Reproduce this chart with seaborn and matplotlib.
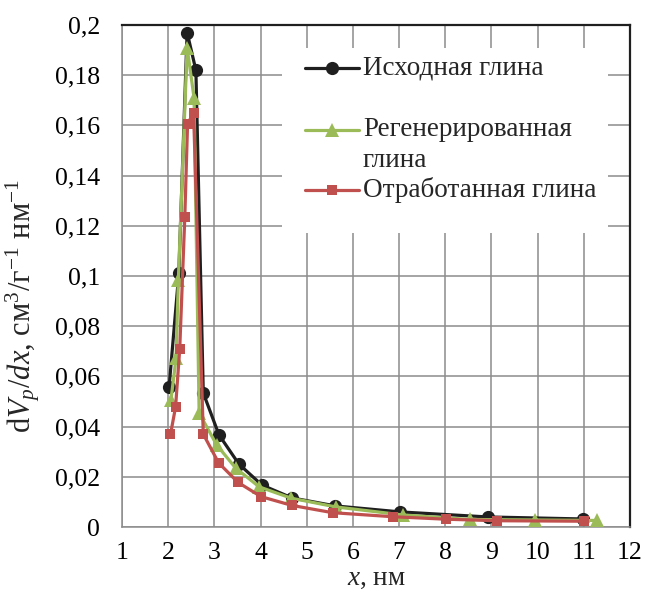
import matplotlib
matplotlib.use("Agg")
import matplotlib.pyplot as plt
import matplotlib.ticker as mticker
from matplotlib.patches import Rectangle
import numpy as np
import pandas as pd
import seaborn as sns

# Data
x_initial = [2.02, 2.23, 2.41, 2.60, 2.76, 3.10, 3.53, 4.03, 4.68, 5.62, 7.03, 8.92, 10.98]
y_initial = [0.0558, 0.101, 0.197, 0.182, 0.0534, 0.0367, 0.0251, 0.0167, 0.0116, 0.0084,
             0.0060, 0.0040, 0.0032]

x_regen = [2.06, 2.17, 2.22, 2.41, 2.56, 2.67, 3.05, 3.46, 3.97, 4.66, 5.63, 7.08, 8.53, 9.94, 11.28]
y_regen = [0.0506, 0.0673, 0.0984, 0.191, 0.171, 0.0454, 0.0327, 0.0235, 0.0160, 0.0115,
           0.0080, 0.0048, 0.0030, 0.0028, 0.0026]

x_spent = [2.05, 2.16, 2.25, 2.36, 2.42, 2.55, 2.76, 3.09, 3.51, 4.01, 4.68, 5.56, 6.86, 8.02, 9.13, 11.01]
y_spent = [0.0369, 0.0478, 0.0709, 0.1235, 0.1606, 0.165, 0.0370, 0.0256, 0.0178, 0.0121,
           0.0086, 0.0057, 0.0041, 0.0031, 0.0025, 0.0023]

labels = ["Исходная глина", "Регенерированная глина", "Отработанная глина"]
colors = ["#1f1f1f", "#9bbb59", "#c0504d"]
markers = ["o", "^", "s"]
msizes = [9.5, 9.5, 7.5]

x_ticks = list(range(1, 13))
y_ticks = [0, 0.02, 0.04, 0.06, 0.08, 0.1, 0.12, 0.14, 0.16, 0.18, 0.2]

sns.set_style("white")
plt.rcParams["font.family"] = ["Liberation Serif", "DejaVu Serif"]
plt.rcParams["mathtext.fontset"] = "custom"
plt.rcParams["mathtext.rm"] = "Liberation Serif"
plt.rcParams["mathtext.it"] = "Liberation Serif:italic"

grid_c = "#8c8c8c"
fs_tick = 18.5
fs = 19.5

fig = plt.figure(figsize=(6.45, 5.99), dpi=100)
ax = fig.add_axes([122 / 645, 1 - 527 / 599, 508 / 645, 502 / 599])

series = [(x_initial, y_initial), (x_regen, y_regen), (x_spent, y_spent)]
for (xs, ys), lab, c, m, ms in zip(series, labels, colors, markers, msizes):
    df = pd.DataFrame({"x": xs, "y": ys})
    sns.lineplot(data=df, x="x", y="y", sort=False, ax=ax, color=c, marker=m,
                 markersize=ms, markeredgewidth=0, linewidth=2.3, zorder=3)

ax.set_xlim(1, 12)
ax.set_ylim(0, 0.2)
ax.set_xticks(x_ticks)
ax.set_yticks(y_ticks)
ax.yaxis.set_major_formatter(mticker.FuncFormatter(
    lambda v, p: ("%.2f" % v).rstrip("0").rstrip(".").replace(".", ",")))
ax.grid(True, color=grid_c, linewidth=1.1)
ax.set_axisbelow(True)
ax.tick_params(axis="both", direction="out", length=6, width=1.1, color=grid_c,
               labelsize=fs_tick, labelcolor="black")
ax.tick_params(axis="x", pad=5)
ax.tick_params(axis="y", pad=10)
for s in ["left", "bottom"]:
    ax.spines[s].set_color(grid_c)
    ax.spines[s].set_linewidth(1.1)
for s in ["top", "right"]:
    ax.spines[s].set_color("#1f1f1f")
    ax.spines[s].set_linewidth(1.6)

ax.set_xlabel(r"$x$, нм", fontsize=fs, va="center")
ax.set_ylabel(r"d$V_p$/$dx$, см$^3$/г$^{-1}$ нм$^{-1}$", fontsize=22, va="center")
ax.xaxis.set_label_coords(0.5, -0.102)
ax.yaxis.set_label_coords(-0.195, 0.44)

# legend drawn in axes coordinates, Excel-like layout
ax.add_patch(Rectangle((0.315, 0.586), 0.642, 0.368, transform=ax.transAxes,
                       facecolor="white", edgecolor="none", zorder=2))
entry_y = [0.914, 0.791, 0.671]
entry_text = ["Исходная глина", "Регенерированная", "Отработанная глина"]
for ey, txt, c, m, ms in zip(entry_y, entry_text, colors, markers, msizes):
    ax.plot([0.360, 0.466], [ey, ey], transform=ax.transAxes, color=c,
            linewidth=2.3, zorder=4, clip_on=False)
    ax.plot([0.413], [ey], transform=ax.transAxes, color=c, marker=m,
            markersize=ms, markeredgewidth=0, zorder=5, clip_on=False)
    ax.text(0.474, ey, txt, transform=ax.transAxes, fontsize=fs, va="center",
            ha="left", zorder=5)
ax.text(0.474, 0.731, "глина", transform=ax.transAxes, fontsize=fs, va="center",
        ha="left", zorder=5)

fig.savefig("out.png", dpi=100, facecolor="white")
